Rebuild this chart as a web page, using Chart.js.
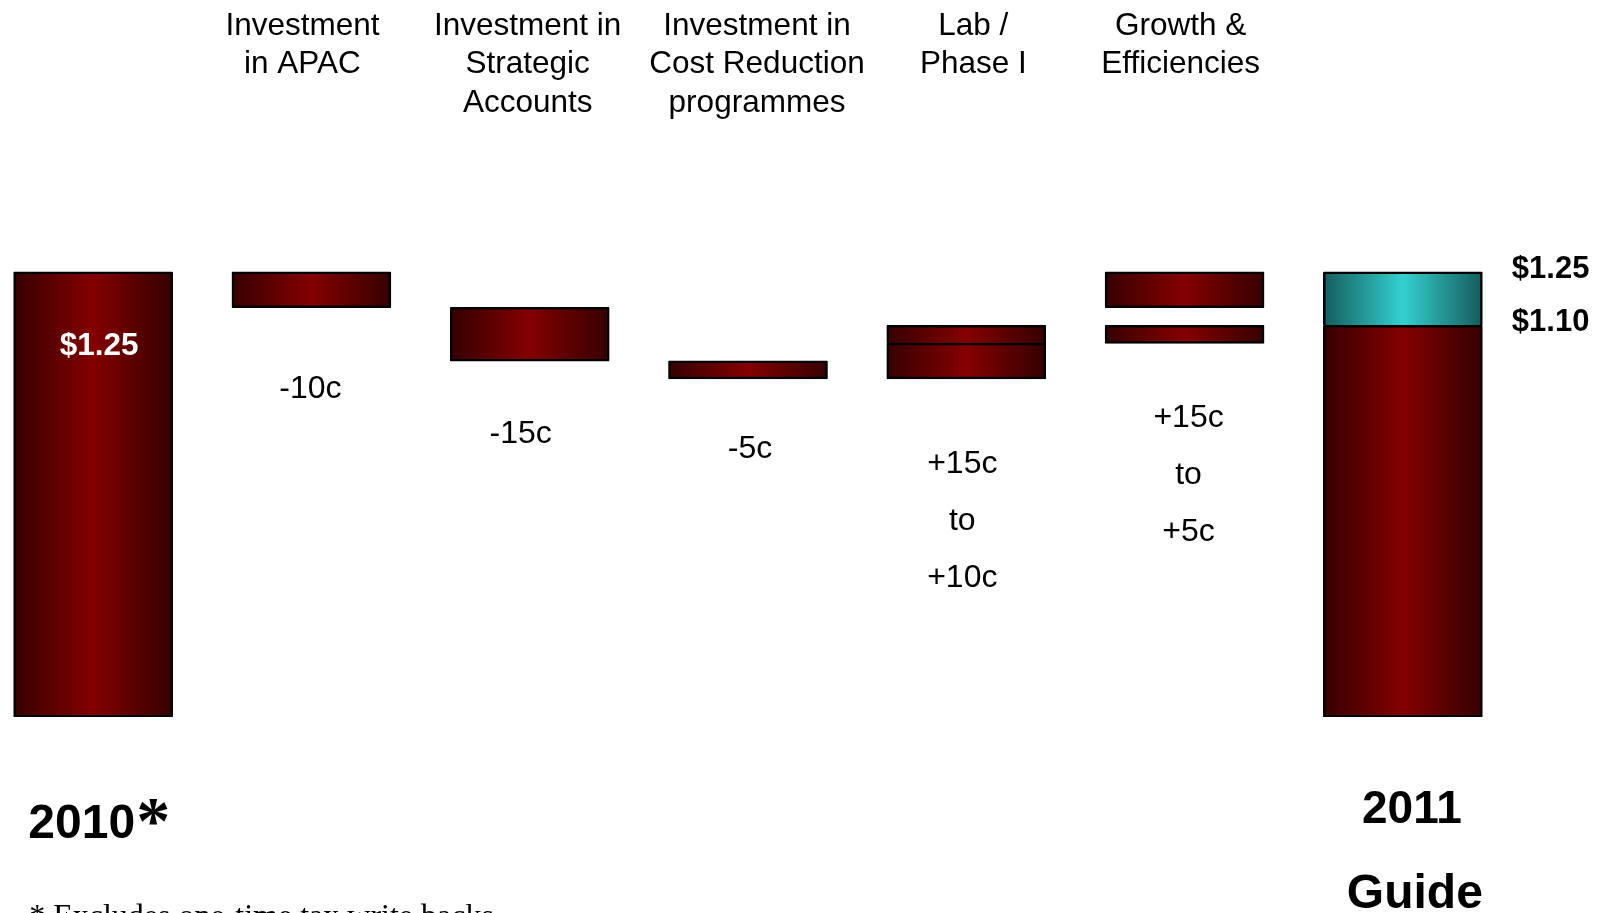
<!DOCTYPE html>
<html lang="en">
<head>
    <meta charset="UTF-8">
    <title>EPS bridge 2010 - 2011</title>
    <script src="https://cdn.jsdelivr.net/npm/chart.js"></script>
    <style>
        html, body { margin: 0; padding: 0; background: #fff; overflow: hidden; }
        #wrap { position: absolute; left: -16px; top: 0; width: 1618px; height: 913px; }
    </style>
</head>
<body>
    <div id="wrap"><canvas id="bridgeChart"></canvas></div>
    <script>
        // categories along the bridge, with the header text shown above each step
        const categories = ['2010', 'Investment in APAC', 'Investment in Strategic Accounts',
            'Investment in Cost Reduction programmes', 'Lab / Phase I', 'Growth & Efficiencies', '2011 Guide'];
        const headerLines = [
            [],
            ['Investment', 'in APAC'],
            ['Investment in', 'Strategic', 'Accounts'],
            ['Investment in', 'Cost Reduction', 'programmes'],
            ['Lab /', 'Phase I'],
            ['Growth &', 'Efficiencies'],
            []
        ];

        // EPS in dollars: [from, to] for each floating segment
        const lowerSpans = [[0, 1.25], [1.15, 1.25], [1.00, 1.15], [0.95, 1.00], [0.95, 1.05], [1.05, 1.10], [0, 1.10]];
        const upperSpans = [null, null, null, null, [1.05, 1.10], [1.15, 1.25], [1.10, 1.25]];
        const upperTones = [null, null, null, null, 'red', 'red', 'teal'];

        // text under each step
        const changeLabels = [null, ['-10c'], ['-15c'], ['-5c'], ['+15c', 'to', '+10c'], ['+15c', 'to', '+5c'], null];
        const guideLevels = [1.25, 1.10];

        const BAR_PCT = 0.727;
        const EDGE = 2.5;

        const tones = {
            red: { edge: '#360000', mid: '#840000' },
            teal: { edge: '#155c5c', mid: '#34d0d0' }
        };

        function barGradient(ctx, tone) {
            const t = tones[tone];
            const chart = ctx.chart;
            if (!chart.chartArea || ctx.type !== 'data') return t.mid;
            const xs = chart.scales.x;
            const cx = xs.getPixelForValue(ctx.dataIndex);
            const half = xs.width / categories.length * BAR_PCT / 2;
            const g = chart.ctx.createLinearGradient(cx - half, 0, cx + half, 0);
            g.addColorStop(0, t.edge);
            g.addColorStop(0.5, t.mid);
            g.addColorStop(1, t.edge);
            return g;
        }

        // an upper segment sitting right on its lower one shares a single edge
        function upperBorder(ctx) {
            const up = upperSpans[ctx.dataIndex];
            const low = lowerSpans[ctx.dataIndex];
            const touching = up && low && Math.abs(up[0] - low[1]) < 1e-9;
            return { top: EDGE, left: EDGE, right: EDGE, bottom: touching ? 0 : EDGE };
        }

        // headers, step labels and year captions
        const textPlugin = {
            id: 'bridgeText',
            afterDatasetsDraw(chart) {
                const c = chart.ctx;
                const xs = chart.scales.x;
                const ys = chart.scales.y;
                const headerShift = [0, -9, -2, 9, 7, -4, 0];
                const labelGap = [0, 90, 82, 79, 94, 84, 0];
                const labelShift = [0, -1, -9, 2, -4, 4, 0];
                c.save();
                c.fillStyle = '#000';
                c.textAlign = 'center';
                c.textBaseline = 'alphabetic';

                c.font = '31.5px "Liberation Sans", Arial, sans-serif';
                headerLines.forEach((lines, i) => {
                    const x = xs.getPixelForValue(i) + headerShift[i];
                    lines.forEach((line, k) => c.fillText(line, x, 34.5 + k * 38.5));
                });

                c.font = '32px "Liberation Sans", Arial, sans-serif';
                changeLabels.forEach((lines, i) => {
                    if (!lines) return;
                    const bottom = Math.min(lowerSpans[i][0], upperSpans[i] ? upperSpans[i][0] : Infinity);
                    const x = xs.getPixelForValue(i) + labelShift[i];
                    const y0 = ys.getPixelForValue(bottom) + labelGap[i];
                    lines.forEach((line, k) => c.fillText(line, x, y0 + k * 57));
                });

                // value inside the 2010 bar
                c.font = 'bold 31.5px "Liberation Sans", Arial, sans-serif';
                c.fillStyle = '#fff';
                c.fillText('$' + lowerSpans[0][1].toFixed(2), xs.getPixelForValue(0) + 6, ys.getPixelForValue(lowerSpans[0][1]) + 83);

                // guide range beside the 2011 bar
                c.font = 'bold 31px "Liberation Sans", Arial, sans-serif';
                c.fillStyle = '#000';
                c.textAlign = 'left';
                guideLevels.forEach(v => c.fillText('$' + v.toFixed(2), xs.getPixelForValue(6) + 109, ys.getPixelForValue(v) + 6));

                // year captions
                const x0 = xs.getPixelForValue(0);
                c.font = 'bold 48px "Liberation Sans", Arial, sans-serif';
                c.textAlign = 'right';
                c.fillText('2010', x0 + 42, 838);
                c.textAlign = 'left';
                c.font = 'bold 68px "Liberation Serif", serif';
                c.fillText('*', x0 + 43, 843);

                const x6 = xs.getPixelForValue(6);
                c.textAlign = 'center';
                c.font = 'bold 46px "Liberation Sans", Arial, sans-serif';
                c.fillText('2011', x6 + 9, 823);
                c.font = 'bold 48px "Liberation Sans", Arial, sans-serif';
                c.fillText('Guide', x6 + 12, 908);

                c.textAlign = 'left';
                c.font = '32px "Liberation Serif", "Times New Roman", serif';
                c.fillText('* Excludes one-time tax write backs', x0 - 64, 926);
                c.restore();
            }
        };

        const ctx = document.getElementById('bridgeChart').getContext('2d');
        const chart = new Chart(ctx, {
            type: 'bar',
            data: {
                labels: categories,
                datasets: [
                    {
                        data: lowerSpans,
                        backgroundColor: c => barGradient(c, 'red'),
                        borderWidth: EDGE
                    },
                    {
                        data: upperSpans,
                        backgroundColor: c => barGradient(c, upperTones[c.dataIndex] || 'red'),
                        borderWidth: upperBorder
                    }
                ]
            },
            options: {
                responsive: true,
                maintainAspectRatio: false,
                animation: false,
                events: [],
                layout: { padding: { left: 0, right: 90, top: 5, bottom: 196 } },
                datasets: {
                    bar: {
                        categoryPercentage: 1,
                        barPercentage: BAR_PCT,
                        borderColor: '#000',
                        borderSkipped: false,
                        borderRadius: 1,
                        inflateAmount: 0.5   // closes the hairline seam between border and fill
                    }
                },
                plugins: { legend: { display: false }, tooltip: { enabled: false } },
                scales: {
                    x: { display: false, stacked: true },
                    y: { display: false, stacked: false, min: 0, max: 2 }
                }
            },
            plugins: [textPlugin]
        });
    </script>
</body>
</html>
